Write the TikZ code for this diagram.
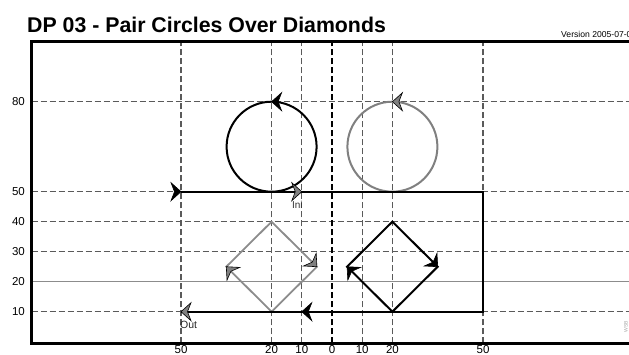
\documentclass[tikz,border=0pt]{standalone}
\usepackage{fontspec}
\setmainfont{Liberation Sans}
\usetikzlibrary{calc}
\definecolor{gridc}{HTML}{5A5A5A}
\definecolor{lgray}{HTML}{8C8C8C}
\definecolor{agray}{HTML}{808080}
\newcommand\arrhd[3]{\filldraw[fill=#3, line width=0.6pt, line join=miter, shift={(#1)}, rotate=#2] (0,0) -- (-10,9) -- (-6.5,0) -- (-10,-9) -- cycle;}
\begin{document}
\begin{tikzpicture}[x=1pt,y=1pt,
  gridl/.style={gridc, line width=1.2pt, dash pattern=on 6pt off 3pt},
  zerol/.style={black, line width=1.2pt, dash pattern=on 6pt off 3pt},
  framel/.style={line width=3pt},
  pathl/.style={line width=2pt},
  lab/.style={font=\fontsize{11.5}{12}\selectfont, inner sep=0pt}]
\useasboundingbox (0,0) rectangle (629,354);
% data coordinates: X = 332 + 3.02u, Y = 12.3 + 3v
\begin{scope}[shift={(332,12.3)}, x=3.02pt, y=3pt]
  \coordinate (pA) at (-50,50);
  \coordinate (pB) at (50,50);
  \coordinate (pC) at (50,10);
  \coordinate (pD) at (-50,10);
  \coordinate (ini) at (-10,50);
  \coordinate (mid) at (-10,10);
  \coordinate (cL) at (-20,65);
  \coordinate (cR) at (20,65);
  \coordinate (tL) at (-20,80);
  \coordinate (tR) at (20,80);
  \coordinate (gT) at (-20,40);
  \coordinate (gR) at (-5,25);
  \coordinate (gB) at (-20,10);
  \coordinate (gL) at (-35,25);
  \coordinate (bT) at (20,40);
  \coordinate (bR) at (35,25);
  \coordinate (bB) at (20,10);
  \coordinate (bL) at (5,25);
\end{scope}
% grid
\foreach \v in {10,30,40,50,80} {
  \draw[gridl] (31.5,12.3+3*\v) -- (629,12.3+3*\v);
  \node[lab, anchor=east] at (25,12.3+3*\v) {\v};
}
\draw[lgray, line width=1pt] (31.5,72.3) -- (629,72.3);
\node[lab, anchor=east] at (25,72.3) {20};
\foreach \u/\t in {-50/50,-20/20,-10/10,10/10,20/20,50/50} {
  \draw[gridl] (332+3.02*\u,10.7) -- (332+3.02*\u,312);
  \node[lab, anchor=north] at (332+3.02*\u,8.5) {\t};
}
\draw[zerol] (332,10.7) -- (332,312);
\node[lab, anchor=north] at (332,8.5) {0};
% frame
\draw[framel] (629,312) -- (31.5,312) -- (31.5,10.7) -- (629,10.7);
% circles
\draw[black, line width=2pt] (cL) circle[radius=45pt];
\draw[agray, line width=2pt] (cR) circle[radius=45pt];
% diamonds
\draw[lgray, line width=1.8pt] (gT) -- (gR) -- (gB) -- (gL) -- cycle;
\draw[black, line width=2pt] (bT) -- (bR) -- (bB) -- (bL) -- cycle;
% main path
\draw[pathl] (pA) -- (pB) -- (pC) -- (pD);
% arrowheads
\arrhd{tL}{180}{black}
\arrhd{tR}{180}{agray}
\arrhd{pA}{0}{black}
\arrhd{ini}{0}{agray}
\arrhd{mid}{180}{black}
\arrhd{pD}{180}{agray}
\arrhd{gL}{135}{agray}
\arrhd{gR}{-45}{agray}
\arrhd{bL}{135}{black}
\arrhd{bR}{-45}{black}
% labels
\node[font=\fontsize{10}{10}\selectfont, text=black!80, inner sep=0pt, anchor=north east] at ($(ini)+(1,-9)$) {Ini};
\node[font=\fontsize{10.5}{11}\selectfont, text=black!85, inner sep=0pt, anchor=north west] at ($(pD)+(-1,-9)$) {Out};
% title
\node[anchor=base west, inner sep=0pt, font=\bfseries\fontsize{21.3}{22}\selectfont] at (27,321) {DP 03 - Pair Circles Over Diamonds};
\node[anchor=base west, inner sep=0pt, font=\fontsize{8.6}{9}\selectfont] at (561,316) {Version 2005-07-0};
\node[rotate=90, inner sep=0pt, font=\fontsize{5}{5}\selectfont, text=black!35] at (626,27) {WSB};
\end{tikzpicture}
\end{document}
